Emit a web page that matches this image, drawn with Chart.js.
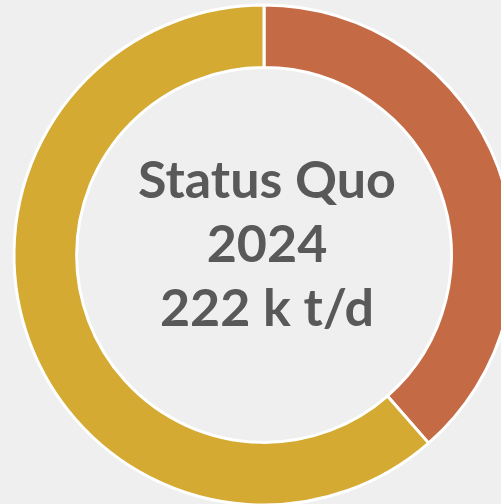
<!DOCTYPE html>
<html>
<head>
<meta charset="utf-8">
<script src="https://cdn.jsdelivr.net/npm/chart.js@4/dist/chart.umd.min.js"></script>
<style>
  html, body { margin: 0; padding: 0; width: 501px; height: 504px; overflow: hidden; background: #efefef; }
  #wrap { position: absolute; left: 0; top: 0; width: 528px; height: 510px; }
</style>
</head>
<body>
<div id="wrap"><canvas id="c"></canvas></div>
<script>
const categories = ["Segment A", "Segment B"];
const values = [85.6, 136.4];
const colors = ["#C46A45", "#D4AA32"];
const centerLines = ["Status Quo", "2024", "222 k t/d"];

const centerText = {
  id: "centerText",
  afterDraw(chart) {
    const meta = chart.getDatasetMeta(0);
    if (!meta.data.length) return;
    const { x, y } = meta.data[0];
    const ctx = chart.ctx;
    ctx.save();
    ctx.fillStyle = "#595959";
    ctx.textAlign = "center";
    ctx.textBaseline = "alphabetic";
    ctx.font = "700 52px Lato";
    const offs = [-57, 7, 71];
    centerLines.forEach((t, i) => ctx.fillText(t, x + 3, y + offs[i]));
    ctx.restore();
  }
};

new Chart(document.getElementById("c"), {
  type: "doughnut",
  data: {
    labels: categories,
    datasets: [{
      data: values,
      backgroundColor: colors,
      borderColor: "#ffffff",
      borderWidth: 3,
      hoverOffset: 0,
      radius: 250,
      cutout: 190
    }]
  },
  options: {
    responsive: true,
    maintainAspectRatio: false,
    animation: false,
    layout: { padding: 0 },
    plugins: { legend: { display: false }, tooltip: { enabled: false } }
  },
  plugins: [centerText]
});
</script>
</body>
</html>
